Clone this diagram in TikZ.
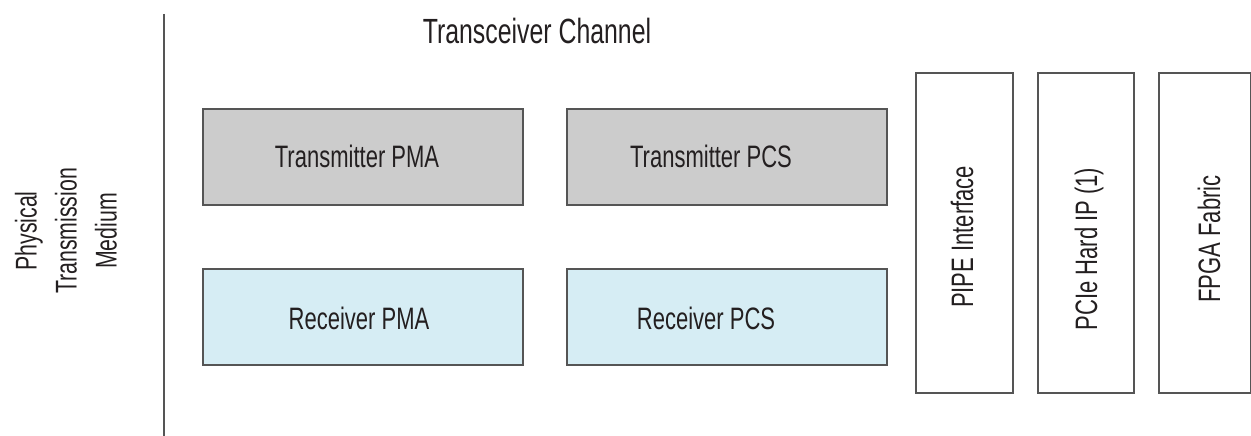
\documentclass[tikz,border=0pt]{standalone}
\usepackage{fontspec}
\setmainfont{Liberation Sans}[FakeStretch=0.71]
\definecolor{txt}{HTML}{231F20}
\definecolor{edge}{HTML}{555555}
\definecolor{txfill}{HTML}{CCCCCC}
\definecolor{rxfill}{HTML}{D6EDF4}
\tikzset{
  blk/.style={draw=edge, line width=1.1pt},
  lbl/.style={text=txt, font=\fontsize{31}{36}\selectfont, inner sep=0pt},
}
\begin{document}
\begin{tikzpicture}[x=1pt,y=1pt]
\useasboundingbox (0,0) rectangle (1251,436);
% separator
\coordinate (lt) at (164,422);
\coordinate (lb) at (164,0);
\draw[edge, line width=1.2pt] (lt) -- (lb);
% title
\node[lbl, font=\fontsize{35}{40}\selectfont] (title) at (537,405) {Transceiver Channel};
% left label
\node[lbl, font=\fontsize{30}{40}\selectfont, rotate=90, align=center] (medium) at (66,205) {Physical\\Transmission\\Medium};
% boxes
\draw[blk, fill=txfill] (203,327) rectangle (523,231);
\node[lbl] (txpma) at (357,280) {Transmitter PMA};
\draw[blk, fill=txfill] (567,327) rectangle (887,231);
\node[lbl] (txpcs) at (711,280) {Transmitter PCS};
\draw[blk, fill=rxfill] (203,167) rectangle (523,71);
\node[lbl] (rxpma) at (359,118) {Receiver PMA};
\draw[blk, fill=rxfill] (567,167) rectangle (887,71);
\node[lbl] (rxpcs) at (706,118) {Receiver PCS};
% vertical boxes
\draw[blk] (916,363) rectangle (1013,43);
\node[lbl, rotate=90] (pipe) at (962,199) {PIPE Interface};
\draw[blk] (1038,363) rectangle (1134,43);
\node[lbl, rotate=90] (pcie) at (1089,187) {PCIe Hard IP (1)};
\draw[blk] (1159,363) rectangle (1251,43);
\node[lbl, rotate=90] (fpga) at (1209,197) {FPGA Fabric};
\end{tikzpicture}
\end{document}
